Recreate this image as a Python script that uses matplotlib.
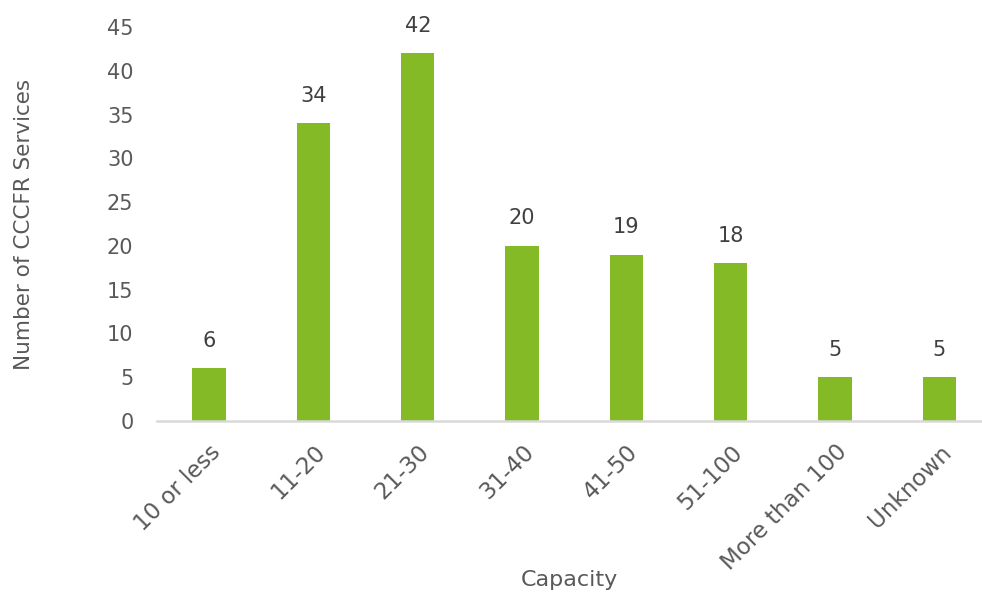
import matplotlib.pyplot as plt

categories = ['10 or less', '11-20', '21-30', '31-40', '41-50', '51-100',
              'More than 100', 'Unknown']
services = [6, 34, 42, 20, 19, 18, 5, 5]

plt.rcParams['font.family'] = ['DejaVu Sans']

fig = plt.figure(figsize=(9.82, 5.95), dpi=100)
ax = fig.add_axes([157/982, 174/595, 824/982, 394/595])

x = range(len(categories))
bars = ax.bar(x, services, width=0.32, color='#84BA26', zorder=2)
for b, v in zip(bars, services):
    ax.text(b.get_x() + b.get_width()/2, v + 2.0, str(v), ha='center',
            va='bottom', fontsize=15, color='#404040')

ax.set_xlim(-0.5, 7.4)
ax.set_ylim(0, 45)
ax.set_yticks(range(0, 46, 5))
ax.set_xticks(list(x))
ax.set_xticklabels(categories, rotation=45, ha='right', rotation_mode='anchor')

for s in ['top', 'right', 'left']:
    ax.spines[s].set_visible(False)
ax.spines['bottom'].set_color('#D9D9D9')
ax.spines['bottom'].set_linewidth(1.8)
ax.tick_params(axis='both', length=0, colors='#595959')
ax.tick_params(axis='y', pad=17, labelsize=15)
ax.tick_params(axis='x', pad=14, labelsize=16.5)

ax.set_ylabel('Number of CCCFR Services', fontsize=15.5, color='#595959')
ax.yaxis.set_label_coords(-123/824, 0.5)
ax.set_xlabel('Capacity', fontsize=16, color='#595959')
ax.xaxis.set_label_coords(0.5, -149/394)

fig.savefig('out.png', dpi=100)
